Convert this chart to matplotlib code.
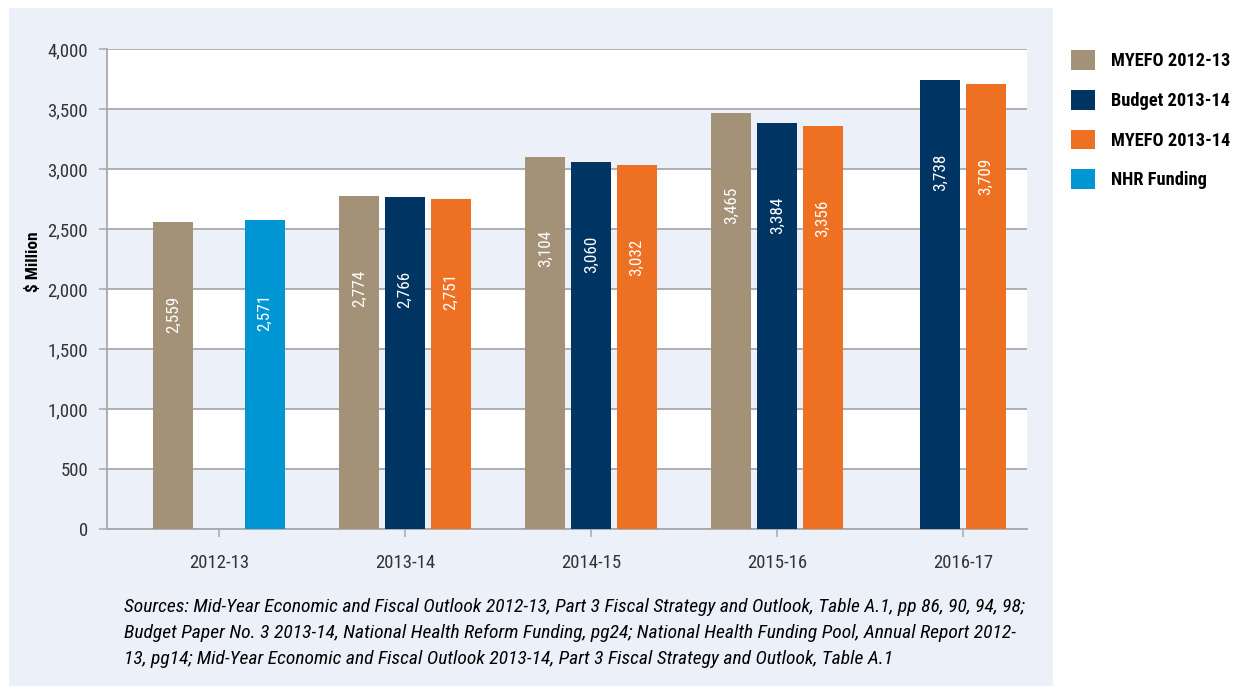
import matplotlib
matplotlib.use("Agg")
import matplotlib.pyplot as plt
from matplotlib import font_manager
from matplotlib.patches import Rectangle, Patch
import numpy as np

categories = ['2012-13', '2013-14', '2014-15', '2015-16', '2016-17']
myefo_1213 = [2559, 2774, 3104, 3465, None]
budget_1314 = [None, 2766, 3060, 3384, 3738]
myefo_1314 = [None, 2751, 3032, 3356, 3709]
nhr_funding = [2571, None, None, None, None]

series_names = ['MYEFO 2012-13', 'Budget 2013-14', 'MYEFO 2013-14', 'NHR Funding']
series_values = [myefo_1213, budget_1314, myefo_1314, nhr_funding]
series_colors = ['#A39277', '#003463', '#EE7023', '#0096D4']
series_slots = [-1, 0, 1, 1]

y_ticks = [0, 500, 1000, 1500, 2000, 2500, 3000, 3500, 4000]

source_text = ("Sources: Mid-Year Economic and Fiscal Outlook 2012-13, Part 3 Fiscal Strategy and Outlook, Table A.1, pp 86, 90, 94, 98;\n"
               "Budget Paper No. 3 2013-14, National Health Reform Funding, pg24; National Health Funding Pool, Annual Report 2012-\n"
               "13, pg14; Mid-Year Economic and Fiscal Outlook 2013-14, Part 3 Fiscal Strategy and Outlook, Table A.1")

# ----------------------------------------------------------------------
panel_color = '#ECF0F9'
grid_color = '#A7A9AC'
text_color = '#333333'

# the original uses a narrow sans, take a condensed face when one is installed
names = {f.name for f in font_manager.fontManager.ttflist}
if 'Roboto Condensed' in names:
    family = 'Roboto Condensed'
elif 'Liberation Sans Narrow' in names:
    family = 'Liberation Sans Narrow'
else:
    family = 'Liberation Sans'
plt.rcParams['font.family'] = [family, 'DejaVu Sans']

W, H = 1245, 686
fig = plt.figure(figsize=(W / 100, H / 100), dpi=100)
fig.patch.set_facecolor('white')

# light panel behind the chart (legend sits on white)
fig.patches.append(Rectangle((9 / W, 0), (1053 - 9) / W, 1 - 8 / H,
                             transform=fig.transFigure, facecolor=panel_color,
                             edgecolor='none', zorder=-5))

ax = fig.add_axes([107 / W, 1 - 529 / H, (1027 - 107) / W, (529 - 49) / H])
ax.set_facecolor(panel_color)

# alternating bands
for lo in range(500, 4000, 1000):
    ax.axhspan(lo, lo + 500, color='white', zorder=0, lw=0)

bar_w = 0.215
step = 0.245
x = np.arange(len(categories))

for ci in range(len(categories)):
    present = [si for si in range(len(series_values)) if series_values[si][ci] is not None]
    shift = np.mean([series_slots[si] for si in present])
    for si in present:
        v = series_values[si][ci]
        xpos = x[ci] + (series_slots[si] - shift) * step
        ax.bar(xpos, v, width=bar_w, color=series_colors[si], zorder=3)
        ax.annotate(f"{v:,}", (xpos, v), xytext=(0, -53), textcoords='offset points',
                    rotation=90, ha='center', va='top', color='white',
                    fontsize=12.3, zorder=4)

ax.set_ylim(0, 4000)
ax.set_xlim(-0.602, 4.344)
ax.set_yticks(y_ticks)
ax.set_yticklabels([f"{t:,}" for t in y_ticks])
ax.set_xticks(x)
ax.set_xticklabels(categories)

ax.grid(axis='y', color=grid_color, linewidth=1.3, zorder=1)
ax.set_axisbelow(True)

for side in ['top', 'right']:
    ax.spines[side].set_visible(False)
for side in ['left', 'bottom']:
    ax.spines[side].set_color(grid_color)
    ax.spines[side].set_linewidth(1.3)

ax.tick_params(axis='y', direction='out', length=6, width=1.1, color=grid_color,
               labelsize=13.5, labelcolor=text_color, pad=7.5)
ax.tick_params(axis='x', direction='out', length=6, width=1.1, color=grid_color,
               labelsize=13.5, labelcolor=text_color, pad=12)

fig.text(33 / W, 1 - 262 / H, "$ Million", rotation=90, ha='center', va='center',
         fontsize=12.5, fontweight='bold', color='black')

# legend
handles = [Patch(facecolor=c, edgecolor='none') for c in series_colors]
leg = fig.legend(handles, series_names, loc='upper left',
                 bbox_to_anchor=(1071 / W, 1 - 50 / H), frameon=False,
                 borderpad=0, borderaxespad=0, handlelength=1.3,
                 handleheight=1.3, handletextpad=0.9,
                 labelspacing=1.07, fontsize=13.2)
for t in leg.get_texts():
    t.set_fontweight('bold')

fig.text(124 / W, 1 - 598 / H, source_text, ha='left', va='top',
         fontsize=14, style='italic', color='black', linespacing=1.56)

fig.savefig('out.png', dpi=100)
